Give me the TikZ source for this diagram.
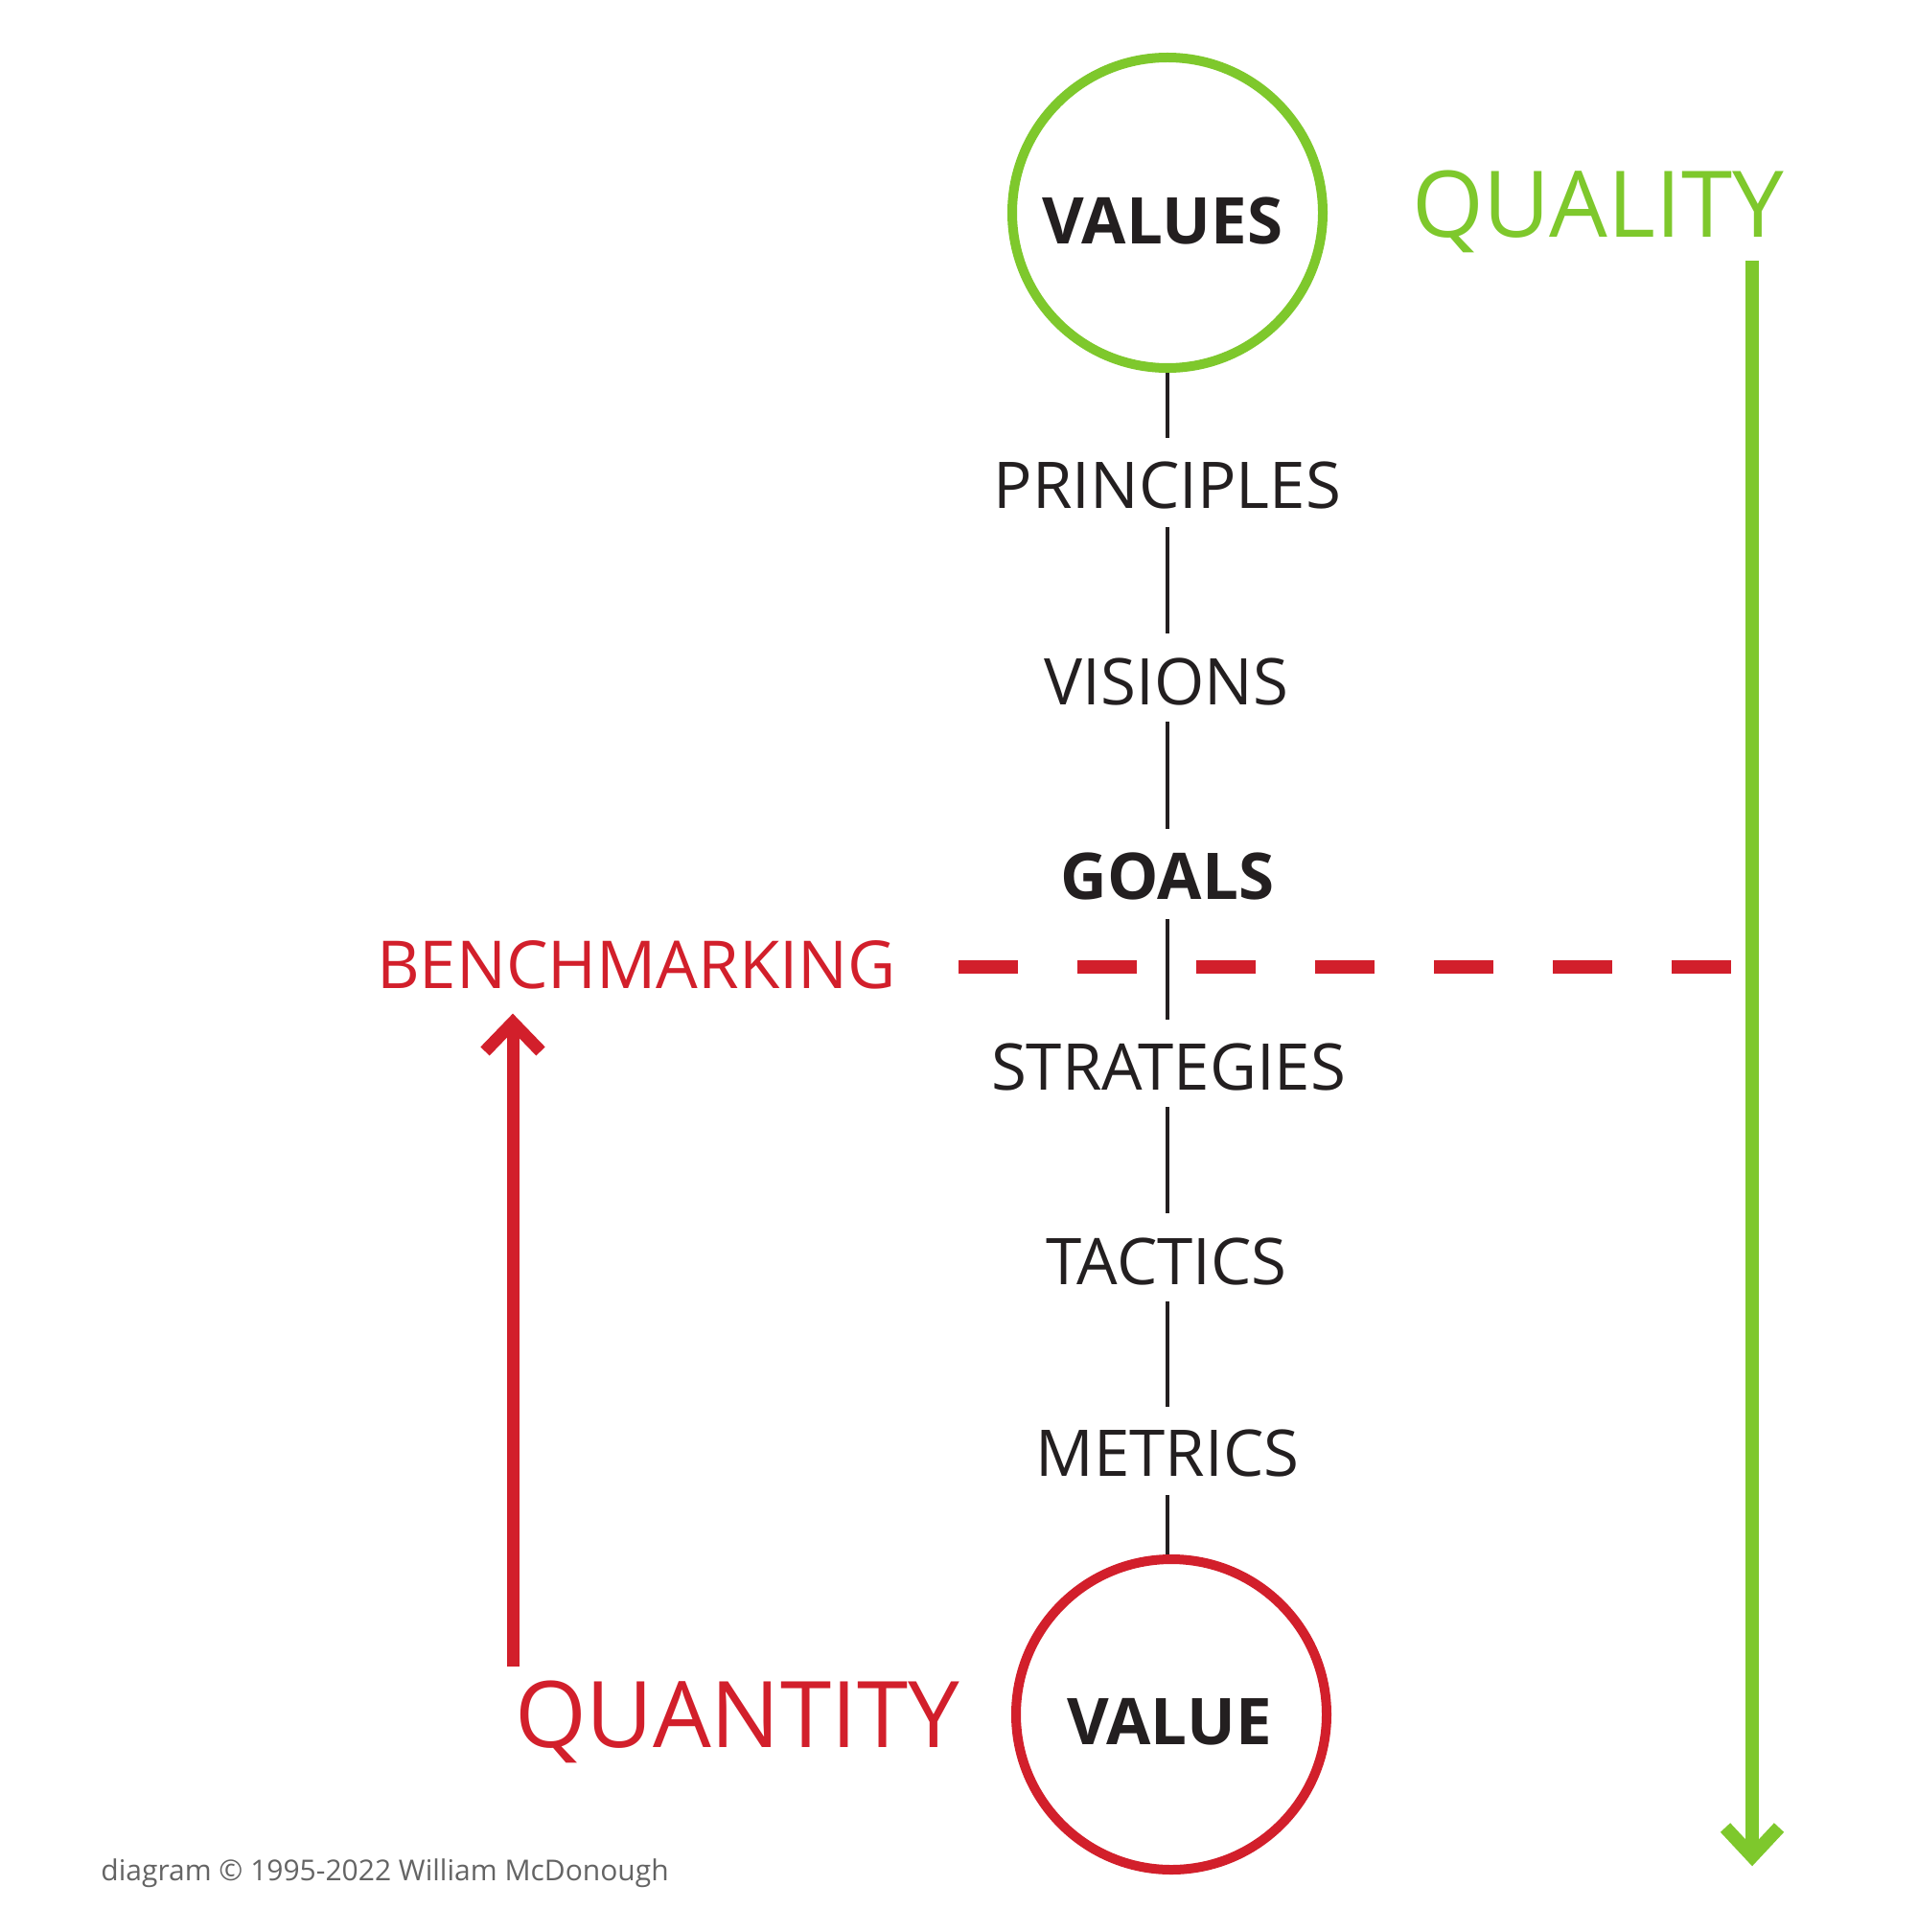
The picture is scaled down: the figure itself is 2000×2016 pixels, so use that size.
\documentclass[tikz,border=0pt]{standalone}
\usepackage{fontspec}
\setmainfont{Open Sans}
\definecolor{qgreen}{RGB}{126,200,44}
\definecolor{qred}{RGB}{210,31,43}
\definecolor{qblack}{RGB}{35,31,32}
\definecolor{qgrey}{RGB}{100,100,100}
\begin{document}
\begin{tikzpicture}[x=0.5pt,y=-0.5pt,
  lbl/.style={font=\fontsize{33.6pt}{36pt}\selectfont, text=qblack, inner sep=0pt, outer sep=0pt, anchor=base},
  blbl/.style={lbl, font=\fontsize{33.6pt}{36pt}\selectfont\bfseries},
  big/.style={font=\fontsize{48pt}{52pt}\selectfont, inner sep=0pt, anchor=base},
  ring/.style={circle, line width=5pt, minimum size=324*0.5pt, inner sep=0pt},
  link/.style={draw=qblack, line width=2.4pt},
  thick arrow/.style={line width=7pt, line join=miter},
]
\useasboundingbox (0,0) rectangle (2000,2016);
\fill[white] (0,0) rectangle (2000,2016);

% circles
\node[ring, draw=qgreen] (valuesc) at (1218,222) {};
\node[ring, draw=qred] (valuec) at (1222,1789) {};
\node[blbl] (values) at (1213,255) {VALUES};
\node[blbl] (value) at (1220,1820) {VALUE};

% column labels (coordinates = baseline)
\node[lbl] (principles) at (1218,530) {PRINCIPLES};
\node[lbl] (visions) at (1217,735) {VISIONS};
\node[blbl] (goals) at (1218,938) {GOALS};
\node[lbl] (strategies) at (1219,1137) {STRATEGIES};
\node[lbl] (tactics) at (1217,1340) {TACTICS};
\node[lbl] (metrics) at (1218,1540) {METRICS};

% connecting segments
\coordinate (p1) at (1218,457);
\coordinate (p2a) at (1218,550); \coordinate (p2b) at (1218,661);
\coordinate (p3a) at (1218,753); \coordinate (p3b) at (1218,865);
\coordinate (p4a) at (1218,959); \coordinate (p4b) at (1218,1064);
\coordinate (p5a) at (1218,1155); \coordinate (p5b) at (1218,1266);
\coordinate (p6a) at (1218,1358); \coordinate (p6b) at (1218,1468);
\coordinate (p7a) at (1218,1560);
\draw[link] (valuesc.south) -- (p1);
\draw[link] (p2a) -- (p2b);
\draw[link] (p3a) -- (p3b);
\draw[link] (p4a) -- (p4b);
\draw[link] (p5a) -- (p5b);
\draw[link] (p6a) -- (p6b);
\draw[link] (p7a) -- (p7a |- valuec.north);

% quality
\node[big, text=qgreen] (quality) at (1667,248) {QUALITY};
\coordinate (gstart) at (1828,272);
\coordinate (gend) at (1828,1932);
\coordinate (gl) at (1800,1907);
\coordinate (gtip) at (1828,1937);
\coordinate (gr) at (1856,1907);
\draw[qgreen, line width=7pt] (gstart) -- (gend);
\draw[qgreen, thick arrow] (gl) -- (gtip) -- (gr);

% benchmarking
\node[lbl, text=qred, font=\fontsize{34.5pt}{36pt}\selectfont] (bench) at (664,1031) {BENCHMARKING};
\coordinate (dstart) at (1000,1009);
\coordinate (dend) at (1806,1009);
\draw[qred, line width=7pt, dash pattern=on 31pt off 31pt] (dstart) -- (dend);

% quantity
\node[big, text=qred] (quantity) at (769,1823) {QUANTITY};
\coordinate (rstart) at (535,1739);
\coordinate (rend) at (535,1072);
\coordinate (rl) at (506,1097);
\coordinate (rtip) at (535,1067);
\coordinate (rr) at (564,1097);
\draw[qred, line width=6.5pt] (rstart) -- (rend);
\draw[qred, line width=6.5pt, line join=miter] (rl) -- (rtip) -- (rr);

% copyright
\node[font=\fontsize{15pt}{17pt}\selectfont, text=qgrey, inner sep=0pt, anchor=base west] (copy) at (105,1962) {diagram © 1995-2022 William McDonough};
\end{tikzpicture}
\end{document}
